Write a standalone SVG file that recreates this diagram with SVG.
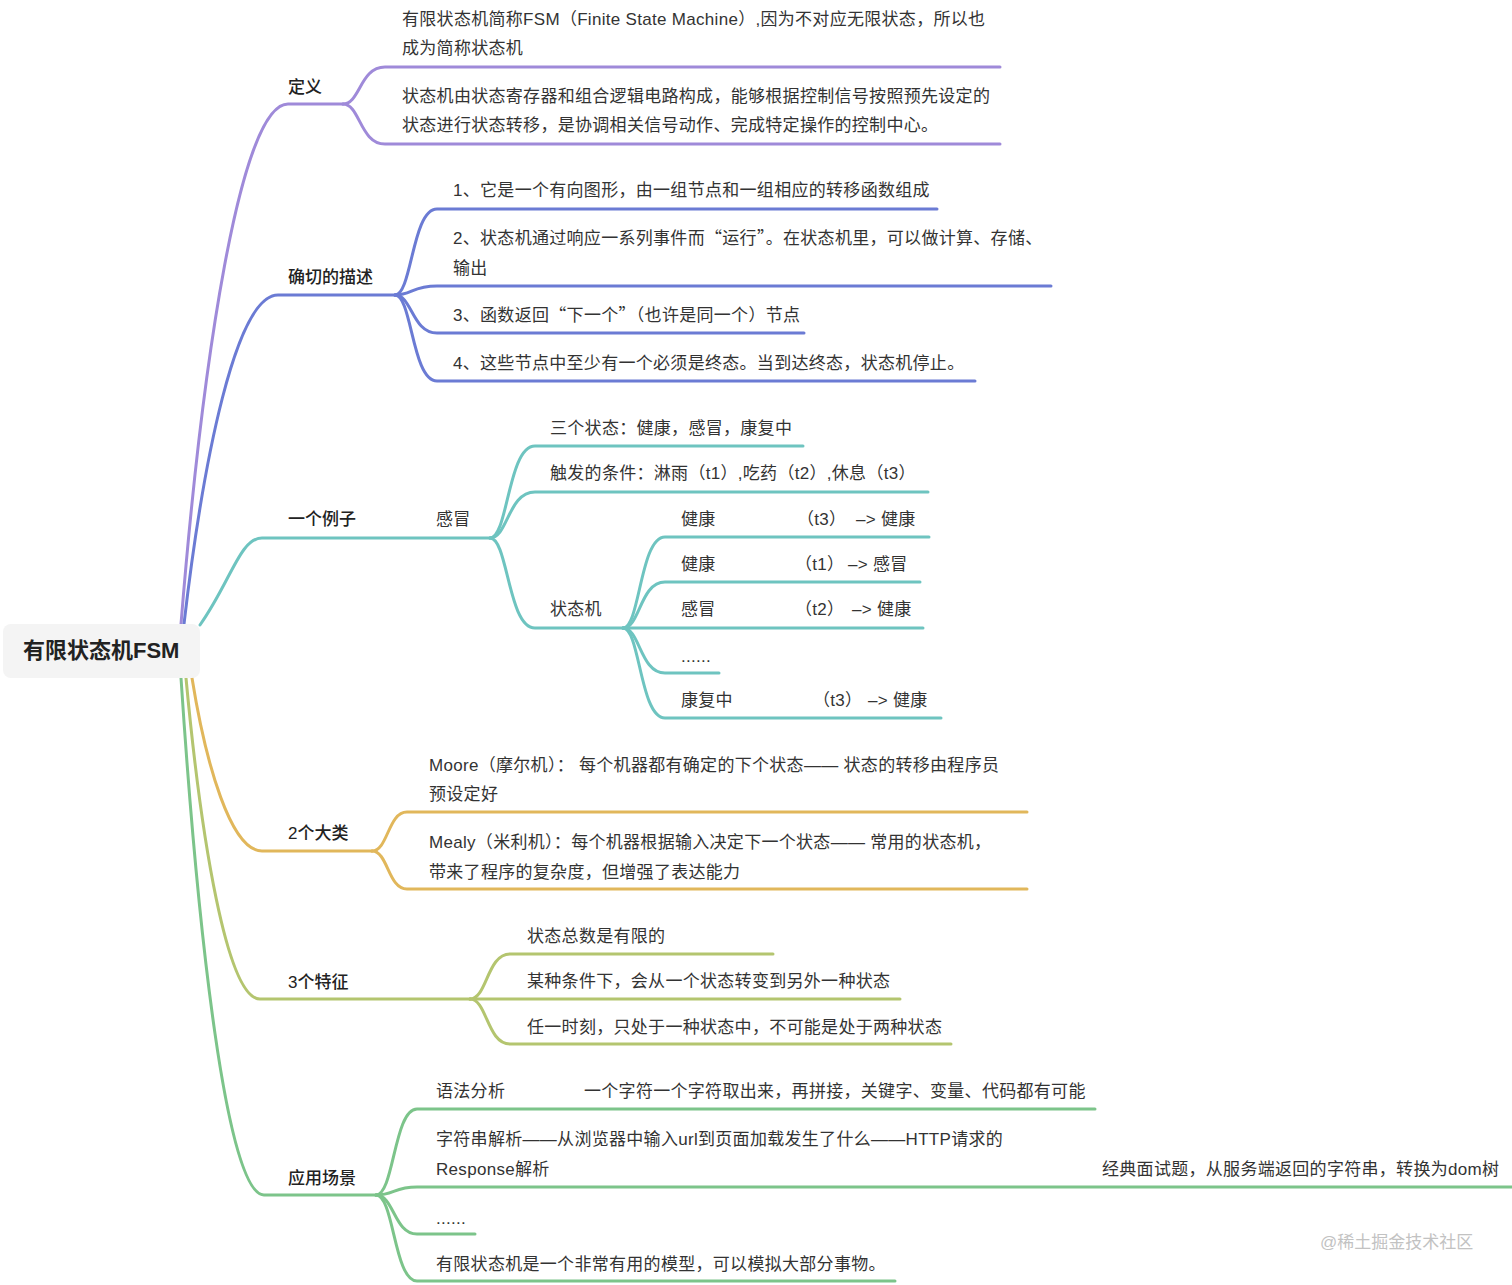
<svg xmlns="http://www.w3.org/2000/svg" width="1512" height="1285" viewBox="0 0 1512 1285">
<style>
text{font-family:"Liberation Sans","Noto Sans CJK SC",sans-serif;font-size:17px;fill:#333;letter-spacing:0.3px}
.q{font-family:"Noto Sans CJK SC",sans-serif}
.lbl{font-weight:500;fill:#222;letter-spacing:0}
.root{font-size:22px;font-weight:600;fill:#222;letter-spacing:0}
.wm{font-size:17px;fill:#c2c2c2;letter-spacing:0}
path{fill:none;stroke-width:3;stroke-linecap:round}
.pu{stroke:#9f8ad9}.bl{stroke:#6b7bd4}.te{stroke:#6ec4c0}.go{stroke:#e1b75b}.yg{stroke:#b4c56f}.gr{stroke:#7cc48a}
</style>
<rect width="1512" height="1285" fill="#fff"/>
<g id="connectors">
<path class="pu" d="M181,624 C202,364 240,104 288,104 L343,104"/>
<path class="bl" d="M184,624 C203,460 236,295 278,295 L395,295"/>
<path class="te" d="M200,625 C231,581 240,538 262,538 L490,538"/>
<path class="go" d="M192,678 C206,765 231,851 262,851 L372,851"/>
<path class="yg" d="M186,678 C201,839 227,999 260,999 L470,999"/>
<path class="gr" d="M181,678 C198,937 227,1195 264,1195 L376,1195"/>
<path class="pu" d="M343,104 C360,104 360,67 385,67 L1000,67"/>
<path class="pu" d="M343,104 C360,104 360,144 385,144 L1000,144"/>
<path class="bl" d="M395,295 C412,295 412,209 437,209 L937,209"/>
<path class="bl" d="M395,295 C412,295 412,286 437,286 L1051,286"/>
<path class="bl" d="M395,295 C412,295 412,333 437,333 L804,333"/>
<path class="bl" d="M395,295 C412,295 412,381 437,381 L975,381"/>
<path class="te" d="M490,538 C508,538 508,446 535,446 L803,446"/>
<path class="te" d="M490,538 C508,538 508,492 535,492 L928,492"/>
<path class="te" d="M490,538 C508,538 508,628 535,628 L623,628"/>
<path class="te" d="M623,628 C640,628 640,537 665,537 L929,537"/>
<path class="te" d="M623,628 C640,628 640,582 665,582 L920,582"/>
<path class="te" d="M623,628 L923,628"/>
<path class="te" d="M623,628 C640,628 640,673 665,673 L719,673"/>
<path class="te" d="M623,628 C640,628 640,718 665,718 L941,718"/>
<path class="go" d="M372,851 C388,851 388,812 407,812 L1027,812"/>
<path class="go" d="M372,851 C388,851 388,889 407,889 L1027,889"/>
<path class="yg" d="M470,999 C487,999 487,954 510,954 L773,954"/>
<path class="yg" d="M470,999 L900,999"/>
<path class="yg" d="M470,999 C487,999 487,1044 510,1044 L951,1044"/>
<path class="gr" d="M376,1195 C394,1195 394,1109 417,1109 L1095,1109"/>
<path class="gr" d="M376,1195 C394,1195 394,1187 417,1187 L1512,1187"/>
<path class="gr" d="M376,1195 C394,1195 394,1234 417,1234 L475,1234"/>
<path class="gr" d="M376,1195 C394,1195 394,1281 417,1281 L895,1281"/>
</g>
<g id="root">
<rect x="3" y="624" width="197" height="54" rx="8" fill="#f4f4f4"/>
<text class="root" x="23" y="658">有限状态机FSM</text>
</g>
<g id="n-def">
<text class="lbl" x="288" y="93">定义</text>
<text x="402" y="25">有限状态机简称FSM（Finite State Machine）,因为不对应无限状态，所以也</text>
<text x="402" y="54">成为简称状态机</text>
<text x="402" y="102">状态机由状态寄存器和组合逻辑电路构成，能够根据控制信号按照预先设定的</text>
<text x="402" y="131">状态进行状态转移，是协调相关信号动作、完成特定操作的控制中心。</text>
</g>
<g id="n-desc">
<text class="lbl" x="288" y="283">确切的描述</text>
<text x="453" y="196">1、它是一个有向图形，由一组节点和一组相应的转移函数组成</text>
<text x="453" y="244">2、状态机通过响应一系列事件而<tspan class="q">“</tspan>运行<tspan class="q">”</tspan>。在状态机里，可以做计算、存储、</text>
<text x="453" y="274">输出</text>
<text x="453" y="321">3、函数返回<tspan class="q">“</tspan>下一个<tspan class="q">”</tspan>（也许是同一个）节点</text>
<text x="453" y="369">4、这些节点中至少有一个必须是终态。当到达终态，状态机停止。</text>
</g>
<g id="n-example">
<text class="lbl" x="288" y="525">一个例子</text>
<text x="436" y="525">感冒</text>
<text x="550" y="434">三个状态：健康，感冒，康复中</text>
<text x="550" y="479">触发的条件：淋雨（t1）,吃药（t2）,休息（t3）</text>
<text x="550" y="615">状态机</text>
<text y="525"><tspan x="681">健康</tspan><tspan x="797">（t3）</tspan><tspan x="856">–&gt; 健康</tspan></text>
<text y="570"><tspan x="681">健康</tspan><tspan x="795">（t1）</tspan><tspan x="848">–&gt; 感冒</tspan></text>
<text y="615"><tspan x="681">感冒</tspan><tspan x="795">（t2）</tspan><tspan x="852">–&gt; 健康</tspan></text>
<text x="681" y="662">......</text>
<text y="706"><tspan x="681">康复中</tspan><tspan x="813">（t3）</tspan><tspan x="868">–&gt; 健康</tspan></text>
</g>
<g id="n-types">
<text class="lbl" x="288" y="839">2个大类</text>
<text x="429" y="771">Moore（摩尔机）： 每个机器都有确定的下个状态—— 状态的转移由程序员</text>
<text x="429" y="800">预设定好</text>
<text x="429" y="848">Mealy（米利机）：每个机器根据输入决定下一个状态—— 常用的状态机，</text>
<text x="429" y="878">带来了程序的复杂度，但增强了表达能力</text>
</g>
<g id="n-features">
<text class="lbl" x="288" y="988">3个特征</text>
<text x="527" y="942">状态总数是有限的</text>
<text x="527" y="987">某种条件下，会从一个状态转变到另外一种状态</text>
<text x="527" y="1033">任一时刻，只处于一种状态中，不可能是处于两种状态</text>
</g>
<g id="n-apps">
<text class="lbl" x="288" y="1184">应用场景</text>
<text x="436" y="1097">语法分析</text>
<text x="584" y="1097">一个字符一个字符取出来，再拼接，关键字、变量、代码都有可能</text>
<text x="436" y="1145">字符串解析——从浏览器中输入url到页面加载发生了什么——HTTP请求的</text>
<text x="436" y="1175">Response解析</text>
<text x="1102" y="1175">经典面试题，从服务端返回的字符串，转换为dom树</text>
<text x="436" y="1224">......</text>
<text x="436" y="1270">有限状态机是一个非常有用的模型，可以模拟大部分事物。</text>
</g>
<text class="wm" x="1320" y="1248">@稀土掘金技术社区</text>
</svg>
